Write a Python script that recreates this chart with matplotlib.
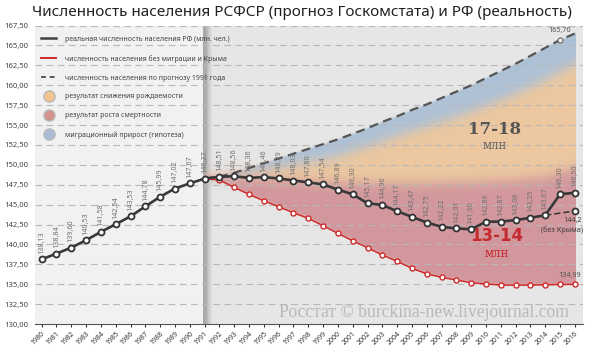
import numpy as np
import matplotlib.pyplot as plt
from matplotlib.lines import Line2D
from matplotlib.ticker import FuncFormatter

plt.rcParams['font.family'] = ['Noto Sans', 'DejaVu Sans']

# data
years = list(range(1980, 2017))
real_pop = [138.13, 138.84, 139.60, 140.53, 141.58, 142.54, 143.53, 144.78, 145.99, 147.02,
            147.67, 148.27, 148.51, 148.56, 148.36, 148.46, 148.29, 148.03, 147.80, 147.54,
            146.89, 146.30, 145.17, 144.96, 144.17, 143.47, 142.75, 142.22, 142.01, 141.90,
            142.86, 142.87, 143.06, 143.35, 143.67, 146.30, 146.50]

fc_years = list(range(1991, 2017))
no_migr = [148.27, 148.09, 147.17, 146.29, 145.49, 144.74, 143.98, 143.28, 142.35, 141.39,
           140.46, 139.59, 138.67, 137.88, 137.00, 136.30, 135.87, 135.53, 135.19, 135.03,
           134.90, 134.88, 134.90, 134.93, 134.97, 134.99]
forecast = [148.27, 148.50, 149.00, 149.60, 150.20, 150.80, 151.40, 152.00, 152.60, 153.20,
            153.90, 154.60, 155.40, 156.10, 156.90, 157.60, 158.40, 159.20, 160.00, 160.90,
            161.80, 162.70, 163.70, 164.70, 165.70, 166.50]

# boundaries between the coloured bands
band_years = [1991, 1992, 1994, 1996, 1998, 2000, 2002, 2004, 2006, 2008, 2010, 2012, 2014, 2016]
birth_top = [148.27, 148.5, 149.0, 149.7, 150.3, 151.1, 152.3, 153.6, 154.8, 156.0, 157.4, 158.9, 160.7, 162.7]
death_top = [148.27, 148.4, 148.4, 148.2, 147.9, 147.8, 147.7, 147.7, 147.7, 147.8, 147.9, 148.1, 148.5, 149.5]

no_crimea_years = [2014, 2016]
no_crimea = [143.67, 144.2]

fig = plt.figure(figsize=(5.91, 3.51), dpi=100)
ax = fig.add_axes([35/591, 1-324/351, 548/591, (324-25.6)/351])

ax.set_facecolor('#e6e6e6')
ax.axvspan(1979, 1991, color='#f1f1f1', zorder=0.5, lw=0)
ax.axvspan(1990.92, 1991.08, color='#a9a9a9', zorder=0.6, lw=0)
shade = np.linspace(0, 1, 8)
for i, s in enumerate(shade[:-1]):
    g = 0.70 + 0.20 * s
    ax.axvspan(1991.08 + i*0.06, 1991.14 + i*0.06, color=(g, g, g), zorder=0.6, lw=0)

# coloured bands as a soft gradient image
gx = np.linspace(1991, 2016, 700)
gy = np.linspace(130, 168, 500)
fc = np.interp(gx, fc_years, forecast)
bt = np.interp(gx, band_years, birth_top)
dt = np.interp(gx, band_years, death_top)
rl = np.interp(gx, fc_years, no_migr)
Y = gy[:, None]

def soft(d, s):
    return 1 / (1 + np.exp(-d / s))

w_blue = soft(fc - Y, 0.06) * soft(Y - bt, 0.45)
w_orange = soft(bt - Y, 0.45) * soft(Y - dt, 0.45)
w_red = soft(dt - Y, 0.45) * soft(Y - rl, 0.06)
c_blue = np.array([0.67, 0.75, 0.84])
c_orange = np.array([0.93, 0.78, 0.61])
c_red = np.array([0.82, 0.58, 0.60])
tot = w_blue + w_orange + w_red
rgb = (w_blue[..., None]*c_blue + w_orange[..., None]*c_orange + w_red[..., None]*c_red) / np.maximum(tot, 1e-6)[..., None]
rgba = np.dstack([rgb, np.clip(tot, 0, 1) * 0.95])
ax.imshow(rgba, extent=(1991, 2016, 130, 168), origin='lower', aspect='auto',
          interpolation='bilinear', zorder=1.2)

# grid
yt = np.arange(130, 167.6, 2.5)
for v in yt[1:]:
    ax.axhline(v, color='#b8b8b8', lw=0.8, ls=(0, (6, 4)), zorder=1.5)

# lines
ax.plot(fc_years, forecast, color='#555555', lw=1.6, ls=(0, (4, 2.5)), zorder=2)
ax.plot([2015], [forecast[-2]], 'o', ms=3.5, mfc='white', mec='#777777', mew=1, zorder=3)
ax.plot(fc_years, no_migr, color='#d02a2a', lw=1.1, marker='o', ms=3.6, mfc='white',
        mec='#d02a2a', mew=1.0, zorder=3)
ax.plot(no_crimea_years, no_crimea, color='#333333', lw=1.1, ls=(0, (4, 2)), zorder=3)
ax.plot([2016], [no_crimea[-1]], 'o', ms=4.3, mfc='white', mec='#333333', mew=1.3, zorder=4)
ax.plot(years, real_pop, color='#383838', lw=1.9, marker='o', ms=4.3, mfc='white',
        mec='#333333', mew=1.3, zorder=4)

fmt = lambda v, d=2: f"{v:.{d}f}".replace('.', ',')
for x, v in zip(years, real_pop):
    ax.annotate(fmt(v), (x, v), xytext=(0, 4), textcoords='offset points', rotation=90,
                ha='center', va='bottom', fontsize=5.2, color='#707070', zorder=5)
ax.annotate(fmt(no_migr[-1]), (2016, no_migr[-1]), xytext=(-4, 4), textcoords='offset points',
            ha='center', va='bottom', fontsize=5.2, color='#505050')
ax.annotate(fmt(forecast[-2]), (2015, forecast[-2]), xytext=(0, 4), textcoords='offset points',
            ha='center', va='bottom', fontsize=5.2, color='#505050')
ax.annotate(fmt(no_crimea[-1], 1), (2016, no_crimea[-1]), xytext=(-2, -4), textcoords='offset points',
            ha='center', va='top', fontsize=5.2, color='#404040')
ax.annotate('(без Крыма)', (2016, no_crimea[-1]), xytext=(-9, -11), textcoords='offset points',
            ha='center', va='top', fontsize=5.2, color='#404040')

# band captions
ax.text(2010.6, 154.5, '17-18', ha='center', va='center', fontsize=12, fontweight='bold',
        family='DejaVu Serif', color='#555555')
ax.text(2010.6, 152.4, 'млн', ha='center', va='center', fontsize=8.5, family='DejaVu Serif', color='#666666')
ax.text(2010.7, 141.0, '13-14', ha='center', va='center', fontsize=12, fontweight='bold',
        family='DejaVu Sans', color='#c42a2e')
ax.text(2010.7, 138.9, 'млн', ha='center', va='center', fontsize=8.5, family='DejaVu Serif', color='#c42a2e')

ax.text(2015.6, 131.5, 'Росстат © burckina-new.livejournal.com', ha='right', va='center',
        fontsize=12.7, family='Liberation Serif', color='#b8b8b8', zorder=2)

# legend
handles = [
    Line2D([], [], color='#404040', lw=1.8),
    Line2D([], [], color='#d02a2a', lw=1.4),
    Line2D([], [], color='#555555', lw=1.4, ls=(0, (2.5, 2))),
    Line2D([], [], marker='o', ls='none', ms=8, mfc='#f2c48e', mec='#b8b8b8'),
    Line2D([], [], marker='o', ls='none', ms=8, mfc='#d4938c', mec='#b8b8b8'),
    Line2D([], [], marker='o', ls='none', ms=8, mfc='#a9bcd4', mec='#b8b8b8'),
]
labels = ['реальная численность населения РФ (млн. чел.)',
          'численность населения без миграции и Крыма',
          'численность населения по прогнозу 1991 года',
          'результат снижения рождаемости',
          'результат роста смертности',
          'миграционный прирост (гипотеза)']
leg = ax.legend(handles, labels, loc='upper left', bbox_to_anchor=(0.006, 0.975), frameon=False,
                fontsize=5.0, handlelength=2.2, handletextpad=1.2, labelspacing=1.72, borderaxespad=0)
for t in leg.get_texts():
    t.set_color('#444444')

# axes
ax.set_xlim(1979.55, 2016.55)
ax.set_ylim(130, 167.5)
ax.set_yticks(yt)
ax.yaxis.set_major_formatter(FuncFormatter(lambda v, p: fmt(v)))
ax.set_xticks(years)
ax.set_xticklabels([str(y) for y in years], rotation=45, ha='right', rotation_mode='anchor')
ax.tick_params(axis='x', labelsize=5, colors='#333333', length=2.5, pad=2)
ax.tick_params(axis='y', labelsize=5.5, colors='#444444', length=0, pad=5)
for s in ['top', 'right', 'left']:
    ax.spines[s].set_visible(False)
ax.spines['bottom'].set_color('#555555')

fig.text(32/591, 1-13/351, 'Численность населения РСФСР (прогноз Госкомстата) и РФ (реальность)',
         ha='left', va='center', fontsize=11, color='#222222')

fig.savefig('out.png', dpi=100)
